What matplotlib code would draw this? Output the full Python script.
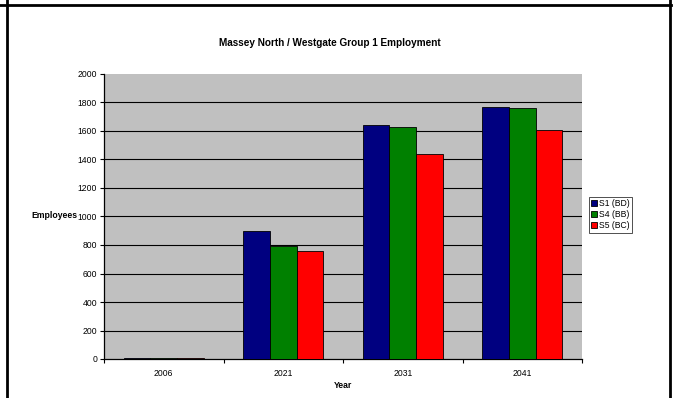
import numpy as np
import matplotlib.pyplot as plt
from matplotlib.lines import Line2D

# Data
years = ['2006', '2021', '2031', '2041']
s1_bd = [10, 898, 1643, 1769]
s4_bb = [10, 793, 1630, 1763]
s5_bc = [10, 758, 1440, 1607]
series_names = ['S1 (BD)', 'S4 (BB)', 'S5 (BC)']
series_colors = ['#000080', '#008000', '#FF0000']

plt.rcParams['font.family'] = ['Liberation Sans', 'DejaVu Sans']

W, H = 676, 398
fig = plt.figure(figsize=(W / 100, H / 100), dpi=100)

# Plot area placed in pixel terms
left, right, top, bottom = 104, 582, 74, 359
ax = fig.add_axes([left / W, 1 - bottom / H, (right - left) / W, (bottom - top) / H])
ax.set_facecolor('#C0C0C0')

x = np.arange(len(years))
bar_w = 1 / 4.5
for i, (vals, name, col) in enumerate(zip([s1_bd, s4_bb, s5_bc], series_names, series_colors)):
    ax.bar(x + (i - 1) * bar_w, vals, bar_w, color=col, edgecolor='black',
           linewidth=0.6, label=name, zorder=3)

# Axes
ax.set_xlim(-0.5, len(years) - 0.5)
ax.set_ylim(0, 2000)
ax.set_yticks(np.arange(0, 2001, 200))
ax.tick_params(axis='y', labelsize=6.2, length=3, width=0.8, pad=2)
ax.set_xticks(x)
ax.set_xticklabels(years)
ax.tick_params(axis='x', which='major', length=0, labelsize=6.2, pad=7)
ax.set_xticks(np.arange(-0.5, len(years), 1), minor=True)
ax.tick_params(axis='x', which='minor', length=3, width=0.8)

ax.yaxis.grid(True, color='black', linewidth=0.8, zorder=1)
ax.set_axisbelow(True)
ax.get_ygridlines()[-1].set_visible(False)
ax.get_ygridlines()[0].set_visible(False)

for side in ['top', 'right']:
    ax.spines[side].set_visible(False)
for side in ['left', 'bottom']:
    ax.spines[side].set_linewidth(0.9)

# Labels and title
fig.text(330 / W, 1 - 43 / H, 'Massey North / Westgate Group 1 Employment',
         ha='center', va='center', fontsize=7.2, fontweight='bold')
fig.text(77 / W, 1 - 216 / H, 'Employees', ha='right', va='center',
         fontsize=6.2, fontweight='bold')
fig.text(343 / W, 1 - 385 / H, 'Year', ha='center', va='center',
         fontsize=6.2, fontweight='bold')

# Legend
leg = fig.legend(loc='upper left', bbox_to_anchor=(589 / W, 1 - 197 / H),
                 fontsize=6.2, frameon=True, fancybox=False, edgecolor='black',
                 handlelength=0.7, handleheight=0.7, handletextpad=0.2,
                 labelspacing=0.25, borderpad=0.25, borderaxespad=0)
leg.get_frame().set_linewidth(0.6)

# Outer cell border lines
fig.add_artist(Line2D([0, 671 / W], [1 - 5 / H, 1 - 5 / H], color='black', linewidth=2))
fig.add_artist(Line2D([7 / W, 7 / W], [0, 1], color='black', linewidth=2))
fig.add_artist(Line2D([670 / W, 670 / W], [0, 1], color='black', linewidth=2))

plt.savefig('out.png', dpi=100)
plt.close()
